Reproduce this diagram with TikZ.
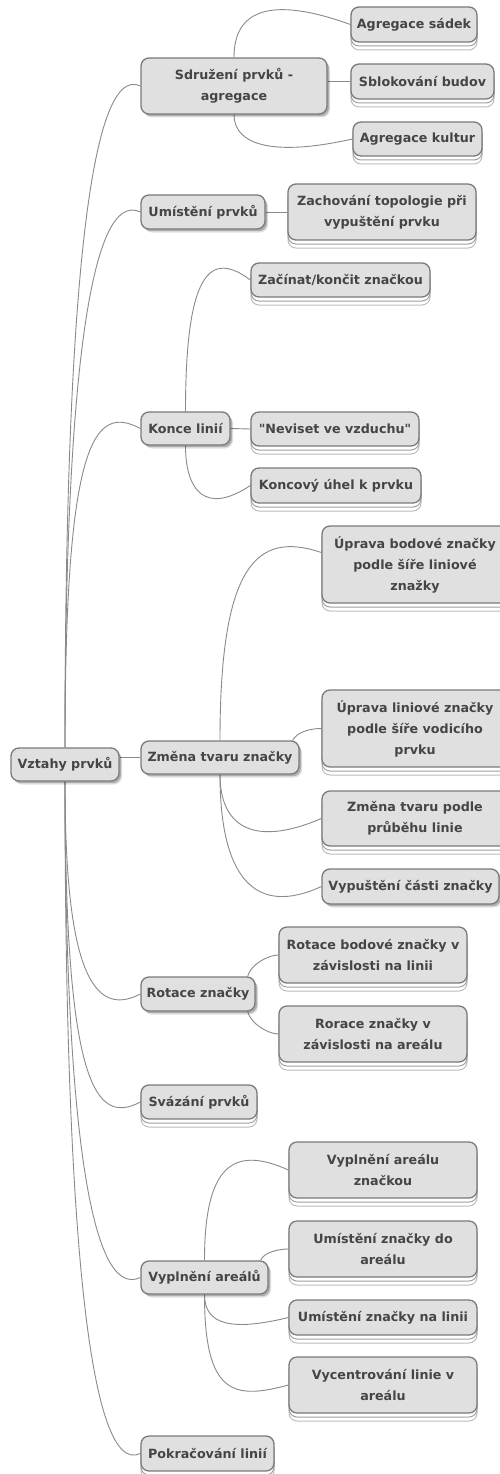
\documentclass[tikz,border=0pt]{standalone}
\usepackage{fontspec}
\newfontfamily\mmfont{DejaVu Sans}
\usetikzlibrary{calc,shadows}
\definecolor{boxfill}{HTML}{E0E0E0}
\definecolor{boxline}{HTML}{7A7A7A}
\definecolor{txt}{HTML}{454545}
\definecolor{edgecol}{HTML}{8A8A8A}
\definecolor{stackA}{HTML}{A0A0A0}
\definecolor{stackB}{HTML}{BDBDBD}
\pgfdeclarelayer{bg}
\pgfsetlayers{bg,main}
\tikzset{
  box/.style={rectangle, rounded corners=8pt, draw=boxline, line width=1.3pt,
    fill=boxfill, text=txt, align=center, inner sep=0pt,
    font=\mmfont\bfseries\fontsize{12.7}{21}\selectfont},
  parent/.style={box,
    general shadow={shadow xshift=3pt, shadow yshift=-3.5pt, fill=black, opacity=0.12},
    general shadow={shadow xshift=2pt, shadow yshift=-2.2pt, fill=black, opacity=0.22}},
  leaf/.style={box,
    copy shadow={shadow xshift=0pt, shadow yshift=-8pt, draw=stackB, fill=white, line width=1pt},
    copy shadow={shadow xshift=0pt, shadow yshift=-4pt, draw=stackA, fill=white, line width=1pt}},
  edge/.style={draw=edgecol, line width=0.9pt},
  sz/.style 2 args={minimum width=#1pt, minimum height=#2pt},
}
\begin{document}
\begin{tikzpicture}[x=1pt,y=1pt]
\useasboundingbox (0,0) rectangle (499,-1474);
\begin{pgfonlayer}{bg}
  \fill[white] (0,0) rectangle (499,-1474);
\end{pgfonlayer}

% root
\node[parent,sz={108}{33}] (root) at (65,-764.5) {Vztahy prvků};

% first branch
\node[parent,sz={186}{56}] (sdr) at (234,-86) {Sdružení prvků -\\agregace};
\node[leaf,sz={126}{35}] (sad) at (414,-24.5) {Agregace sádek};
\node[leaf,sz={143}{35}] (sbl) at (422.5,-81.5) {Sblokování budov};
\node[leaf,sz={129}{34}] (kul) at (417.5,-139) {Agregace kultur};

\node[parent,sz={124}{34}] (ump) at (203,-212) {Umístění prvků};
\node[leaf,sz={188}{56}] (zach) at (382,-212) {Zachování topologie při\\vypuštění prvku};

\node[parent,sz={89}{33}] (kon) at (185.5,-428.5) {Konce linií};
\node[leaf,sz={179}{34}] (zac) at (340.5,-280) {Začínat/končit značkou};
\node[leaf,sz={168}{34}] (nev) at (335,-429) {"Neviset ve vzduchu"};
\node[leaf,sz={170}{35}] (kou) at (336,-485.5) {Koncový úhel k prvku};

\node[parent,sz={158}{33}] (zm) at (220,-757.5) {Změna tvaru značky};
\node[leaf,sz={186}{77}] (upb) at (415,-564.5) {Úprava bodové značky\\podle šíře liniové\\znažky};
\node[leaf,sz={186}{77}] (upl) at (415,-728.5) {Úprava liniové značky\\podle šíře vodicího\\prvku};
\node[leaf,sz={186}{55}] (ztp) at (415,-818.5) {Změna tvaru podle\\průběhu linie};
\node[parent,sz={177}{35}] (vyp) at (410.5,-886.5) {Vypuštění části značky};

\node[parent,sz={114}{34}] (rot) at (198,-994) {Rotace značky};
\node[leaf,sz={188}{56}] (rbz) at (373,-955) {Rotace bodové značky v\\závislosti na linii};
\node[leaf,sz={188}{56}] (rrz) at (373,-1034) {Rorace značky v\\závislosti na areálu};

\node[leaf,sz={116}{34}] (svz) at (199,-1102) {Svázání prvků};

\node[parent,sz={127}{33}] (vya) at (204.5,-1277.5) {Vyplnění areálů};
\node[leaf,sz={188}{56}] (vaz) at (383,-1170) {Vyplnění areálu\\značkou};
\node[leaf,sz={188}{56}] (uda) at (383,-1249) {Umístění značky do\\areálu};
\node[leaf,sz={188}{35}] (unl) at (383,-1317.5) {Umístění značky na linii};
\node[leaf,sz={188}{56}] (vcl) at (383,-1385) {Vycentrování linie v\\areálu};

\node[leaf,sz={133}{35}] (pok) at (207.5,-1453.5) {Pokračování linií};

\begin{pgfonlayer}{bg}
  % links from the root
  \draw[edge] (root.north) .. controls +(0,444) and +(-51,24) .. (sdr.west);
  \draw[edge] (root.north) .. controls +(0,359) and +(-51,24) .. (ump.west);
  \draw[edge] (root.north) .. controls +(0,308) and +(-46,24.5) .. (kon.west);
  \draw[edge] (root.east |- zm.west) -- (zm.west);
  \draw[edge] (root.south) .. controls +(0,-180) and +(-50,-26) .. (rot.west);
  \draw[edge] (root.south) .. controls +(0,-300) and +(-46,-24.5) .. (svz.west);
  \draw[edge] (root.south) .. controls +(0,-333) and +(-51,-24) .. (vya.west);
  \draw[edge] (root.south) .. controls +(0,-450) and +(-51,-24) .. (pok.west);
  % aggregation
  \draw[edge] (sdr.north) .. controls +(0,48) and +(-79,28.5) .. (sad.west);
  \draw[edge] (sdr.east |- sbl.west) -- (sbl.west);
  \draw[edge] (sdr.south) .. controls +(0,-30) and +(-80,-18) .. (kul.west);
  % placement
  \draw[edge] (ump.east) -- (zach.west);
  % line ends
  \draw[edge] (kon.north) .. controls +(0,140) and +(-40,30) .. (zac.west);
  \draw[edge] (kon.east) -- (nev.west);
  \draw[edge] (kon.south) .. controls +(0,-45) and +(-45,-30) .. (kou.west);
  % shape change
  \draw[edge] (zm.north) .. controls +(0,175) and +(-65,22) .. ($(upb.west)+(0,12)$);
  \draw[edge] ($(zm.north east)+(-7,0)$) .. controls +(4,8) and +(-12,0) .. (upl.west);
  \draw[edge] (zm.south) .. controls +(0,-50) and +(-70,-30) .. (ztp.west);
  \draw[edge] (zm.south) .. controls +(0,-105) and +(-65,-30) .. (vyp.west);
  % rotation
  \draw[edge] ($(rot.north east)+(-8,0)$) .. controls +(3,12) and +(-10,0) .. (rbz.west);
  \draw[edge] ($(rot.south east)+(-8,0)$) .. controls +(3,-12) and +(-10,0) .. (rrz.west);
  % area fill
  \draw[edge] (vya.north) .. controls +(0,95) and +(-55,25) .. (vaz.west);
  \draw[edge] ($(vya.north east)+(-8,0)$) .. controls +(3,8) and +(-10,0) .. (uda.west);
  \draw[edge] (vya.south) .. controls +(0,-30) and +(-57,-14) .. (unl.west);
  \draw[edge] (vya.south) .. controls +(0,-100) and +(-55,-15) .. (vcl.west);
\end{pgfonlayer}
\end{tikzpicture}
\end{document}
